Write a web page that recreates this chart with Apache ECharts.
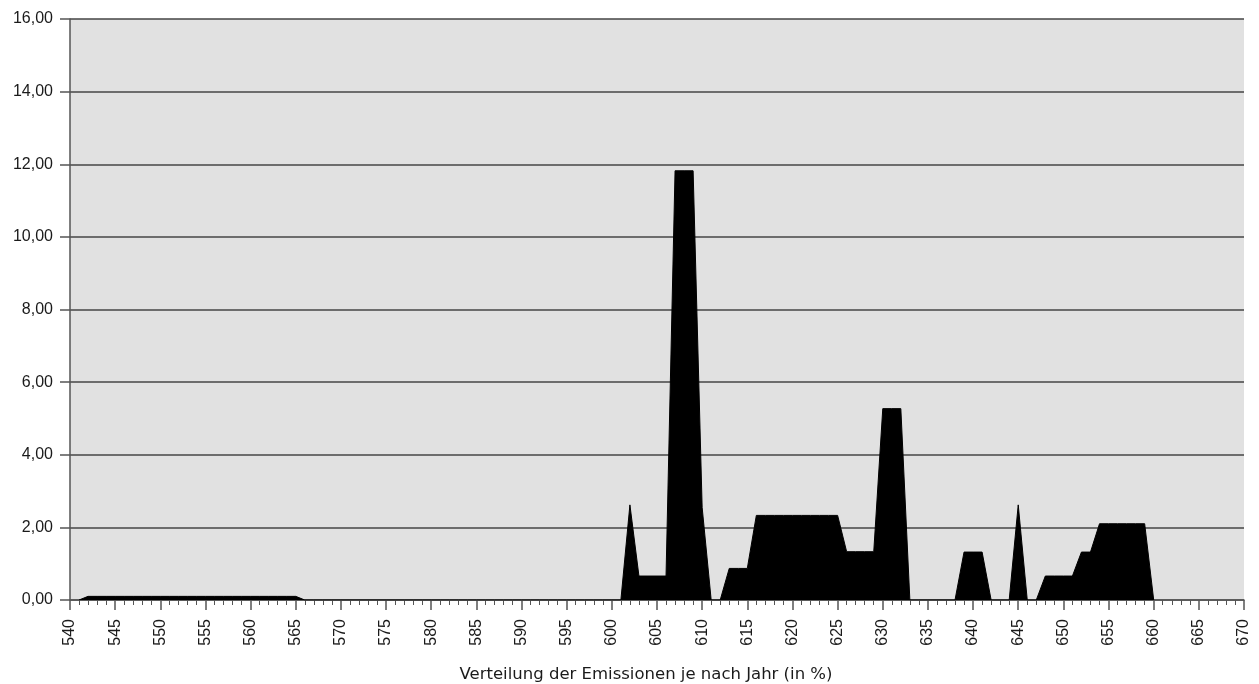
<!DOCTYPE html>
<html>
<head>
<meta charset="utf-8">
<script src="https://cdn.jsdelivr.net/npm/echarts@6/dist/echarts.min.js"></script>
<style>
html,body{margin:0;padding:0;background:#fff;}
#chart{width:1259px;height:684px;}
</style>
</head>
<body>
<div id="chart"></div>
<script>
// Years (x) and emission share in % (y)
var years = [541,542,543,544,545,546,547,548,549,550,551,552,553,554,555,556,557,558,559,560,
  561,562,563,564,565,566,567,568,569,570,571,572,573,574,575,576,577,578,579,580,
  581,582,583,584,585,586,587,588,589,590,591,592,593,594,595,596,597,598,599,600,
  601,602,603,604,605,606,607,608,609,610,611,612,613,614,615,616,617,618,619,620,
  621,622,623,624,625,626,627,628,629,630,631,632,633,634,635,636,637,638,639,640,
  641,642,643,644,645,646,647,648,649,650,651,652,653,654,655,656,657,658,659,660];
var values = [0,0.1,0.1,0.1,0.1,0.1,0.1,0.1,0.1,0.1,0.1,0.1,0.1,0.1,0.1,0.1,0.1,0.1,0.1,0.1,
  0.1,0.1,0.1,0.1,0.1,0,0,0,0,0,0,0,0,0,0,0,0,0,0,0,
  0,0,0,0,0,0,0,0,0,0,0,0,0,0,0,0,0,0,0,0,
  0,2.62,0.66,0.66,0.66,0.66,11.82,11.82,11.82,2.55,0,0,0.87,0.87,0.87,2.33,2.33,2.33,2.33,2.33,
  2.33,2.33,2.33,2.33,2.33,1.33,1.33,1.33,1.33,5.27,5.27,5.27,0,0,0,0,0,0,1.32,1.32,
  1.32,0,0,0,2.62,0,0,0.66,0.66,0.66,0.66,1.32,1.32,2.1,2.1,2.1,2.1,2.1,2.1,0];
var xName = 'Verteilung der Emissionen je nach Jahr (in %)';
var xMin = 540, xMax = 670, xStep = 5;
var yMin = 0, yMax = 16, yStep = 2;

var data = years.map(function (y, i) { return [y, values[i]]; });
var font = '"Liberation Sans", Arial, Helvetica, sans-serif';

var chart = echarts.init(document.getElementById('chart'));
chart.setOption({
  animation: false,
  backgroundColor: '#ffffff',
  grid: {left: 70, right: 15, top: 19, bottom: 84, show: true, backgroundColor: '#e1e1e1', borderWidth: 0,
    outerBoundsMode: 'none', containLabel: false},
  xAxis: {
    type: 'value', min: xMin, max: xMax, interval: xStep,
    name: xName, nameLocation: 'middle', nameGap: 66,
    nameTextStyle: {fontFamily: '"DejaVu Sans", sans-serif', fontSize: 16.5, color: '#1a1a1a', padding: [0, 22, 0, 0]},
    axisLine: {show: true, lineStyle: {color: '#555', width: 1.5}},
    axisTick: {show: true, length: 10, lineStyle: {color: '#555', width: 1.5}},
    minorTick: {show: true, splitNumber: 5, length: 5, lineStyle: {color: '#555', width: 1}},
    splitLine: {show: false},
    axisLabel: {rotate: 90, margin: 19, fontFamily: font, fontSize: 16, color: '#1a1a1a'}
  },
  yAxis: {
    type: 'value', min: yMin, max: yMax, interval: yStep,
    axisLine: {show: true, lineStyle: {color: '#555', width: 1.5}},
    axisTick: {show: true, length: 10, lineStyle: {color: '#555', width: 1.5}},
    splitLine: {show: true, lineStyle: {color: '#444', width: 1.5}},
    axisLabel: {margin: 17, fontFamily: font, fontSize: 16, color: '#1a1a1a',
      formatter: function (v) { return v.toFixed(2).replace('.', ','); }}
  },
  series: [{
    type: 'line', data: data, showSymbol: false, symbol: 'none',
    lineStyle: {color: '#000', width: 1},
    areaStyle: {color: '#000', opacity: 1},
    z: 3
  }]
});
</script>
</body>
</html>
